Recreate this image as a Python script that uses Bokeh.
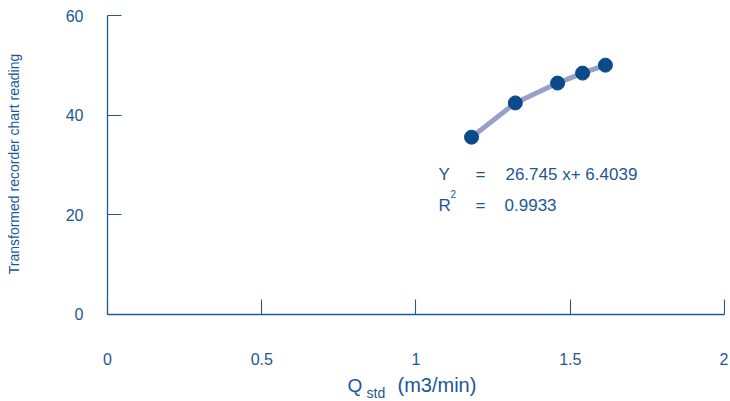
import math
from bokeh.plotting import figure
from bokeh.models import Label, FixedTicker
from bokeh.embed import file_html
from bokeh.resources import INLINE

q_std = [1.180, 1.322, 1.459, 1.540, 1.614]
reading = [35.6, 42.5, 46.5, 48.5, 50.1]
x_ticks = [0, 0.5, 1, 1.5, 2]
y_ticks = [0, 20, 40, 60]
eq_line = "26.745 x+ 6.4039"
r2_value = "0.9933"
x_title_main = "Q"
x_title_sub = "std"
x_title_unit = "(m3/min)"
y_title = "Transformed recorder chart reading"

TXT = "#1b5797"
AX = "#1f5a96"
FONT = "Liberation Sans"

p = figure(width=728, height=400, output_backend="svg", toolbar_location=None,
           x_range=(-0.34684, 2.01297), y_range=(-17.41, 63.12),
           min_border_left=0, min_border_right=0, min_border_top=0, min_border_bottom=0)
p.outline_line_color = None
p.grid.visible = False
p.background_fill_color = "white"

for ax in (p.xaxis[0], p.yaxis[0]):
    ax.fixed_location = 0
    ax.axis_line_color = AX
    ax.axis_line_width = 1.3
    ax.major_tick_line_color = AX
    ax.major_tick_line_width = 1.1
    ax.minor_tick_line_color = None
    ax.major_tick_out = 0
    ax.major_label_text_color = TXT
    ax.major_label_text_font = FONT

p.xaxis[0].bounds = (0, 2)
p.yaxis[0].bounds = (0, 60)
p.xaxis[0].ticker = FixedTicker(ticks=x_ticks)
p.yaxis[0].ticker = FixedTicker(ticks=y_ticks)
p.xaxis[0].major_tick_in = 15
p.yaxis[0].major_tick_in = 14
p.xaxis[0].major_label_standoff = 39
p.yaxis[0].major_label_standoff = 24
p.xaxis[0].major_label_text_font_size = "16px"
p.yaxis[0].major_label_text_font_size = "16px"
p.xaxis[0].major_label_overrides = {0: "0", 0.5: "0.5", 1: "1", 1.5: "1.5", 2: "2"}

p.line(q_std, reading, line_color="#9a9fc9", line_width=5)
p.scatter(q_std, reading, size=14, fill_color="#0b4a8b", line_color="#0b4a8b")

def lab(x, y, text, size, align="left", angle=0.0):
    p.add_layout(Label(x=x, y=y, text=text, text_font=FONT, text_font_size=size,
                       text_color=TXT, text_baseline="middle", text_align=align,
                       angle=angle))

# y axis title
lab(-0.3047, 30.2, y_title, "14px", align="center", angle=math.pi / 2)

# regression text
lab(1.073, 28.1, "Y", "17px")
lab(1.193, 28.1, "=", "17px")
lab(1.290, 28.1, eq_line, "17px")
lab(1.073, 21.9, "R", "17px")
lab(1.112, 24.1, "2", "10px")
lab(1.193, 21.9, "=", "17px")
lab(1.287, 21.9, r2_value, "17px")

# x axis title with subscript
lab(0.778, -14.3, x_title_main, "19px")
lab(0.8396, -15.9, x_title_sub, "14px")
lab(0.940, -14.3, x_title_unit, "20px")

open("out.html", "w").write(file_html(p, INLINE))
